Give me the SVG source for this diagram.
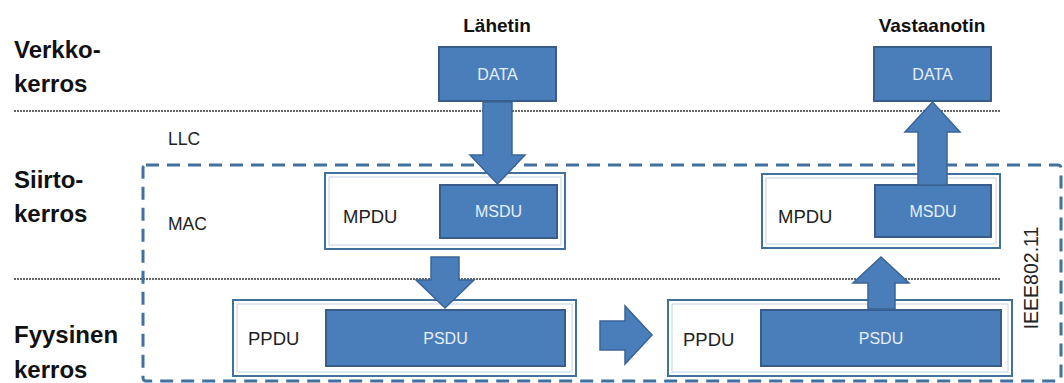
<svg xmlns="http://www.w3.org/2000/svg" width="1064" height="383" viewBox="0 0 1064 383">
<style>
.big{font-family:"Liberation Sans",Arial,sans-serif;font-weight:bold;font-size:24px;fill:#111}
.hdr{font-family:"Liberation Sans",Arial,sans-serif;font-weight:bold;font-size:19px;fill:#111;text-anchor:middle}
.lbl{font-family:"Liberation Sans",Arial,sans-serif;font-size:18.5px;fill:#222}
.wt{font-family:"Liberation Sans",Arial,sans-serif;font-size:16px;fill:#e6eef8;text-anchor:middle}
.blue{fill:#4a7ebb;stroke:#385d8a;stroke-width:2}
.outer{fill:#fff;stroke:#41719c;stroke-width:2}
.inner{fill:none;stroke:#c3d2e6;stroke-width:1}
.dot{stroke:#666;stroke-width:2;stroke-dasharray:2 1;fill:none}
.arrow{fill:#4a7ebb;stroke:#3a6496;stroke-width:1.5;stroke-linejoin:miter}
</style>
<rect width="1064" height="383" fill="#fff"/>
<g id="layers">
<text class="big" x="14" y="58">Verkko-</text>
<text class="big" x="14" y="92">kerros</text>
<text class="big" x="14" y="188">Siirto-</text>
<text class="big" x="14" y="222">kerros</text>
<text class="big" x="14" y="343">Fyysinen</text>
<text class="big" x="14" y="378">kerros</text>
<line class="dot" x1="14" y1="111" x2="1000" y2="111"/>
<line class="dot" x1="14" y1="279" x2="1000" y2="279"/>
</g>
<g id="ieee">
<rect x="143" y="165" width="918" height="216" rx="3" fill="none" stroke="#41719c" stroke-width="3" stroke-dasharray="13 8"/>
<text class="lbl" transform="translate(1038,278) rotate(-90)" text-anchor="middle" style="font-size:19.5px">IEEE802.11</text>
</g>
<g id="sublayers">
<text class="lbl" x="168" y="145" style="font-size:17.5px">LLC</text>
<text class="lbl" x="168" y="230" style="font-size:17.5px">MAC</text>
</g>
<g id="tx-data">
<text class="hdr" x="497" y="32">Lähetin</text>
<rect class="blue" x="439" y="47" width="117" height="54"/>
<text class="wt" x="497.5" y="80">DATA</text>
</g>
<g id="rx-data">
<text class="hdr" x="932" y="32">Vastaanotin</text>
<rect class="blue" x="874" y="47" width="117" height="54"/>
<text class="wt" x="932.5" y="80">DATA</text>
</g>
<g id="tx-mpdu">
<rect class="outer" x="325" y="173" width="240" height="76"/>
<rect class="inner" x="329" y="177" width="232" height="68"/>
<text class="lbl" x="343" y="223">MPDU</text>
<rect class="blue" x="440" y="185" width="117" height="53"/>
<text class="wt" x="498.5" y="217">MSDU</text>
</g>
<g id="rx-mpdu">
<rect class="outer" x="762" y="174" width="238" height="74"/>
<rect class="inner" x="766" y="178" width="230" height="66"/>
<text class="lbl" x="778" y="223">MPDU</text>
<rect class="blue" x="875" y="185" width="116" height="52"/>
<text class="wt" x="933" y="217">MSDU</text>
</g>
<g id="tx-ppdu">
<rect class="outer" x="233" y="300" width="343" height="76"/>
<rect class="inner" x="237" y="304" width="335" height="68"/>
<text class="lbl" x="248" y="345">PPDU</text>
<rect class="blue" x="326" y="310" width="239" height="56"/>
<text class="wt" x="445.5" y="344">PSDU</text>
</g>
<g id="rx-ppdu">
<rect class="outer" x="668" y="300" width="344" height="76"/>
<rect class="inner" x="672" y="304" width="336" height="68"/>
<text class="lbl" x="683" y="346">PPDU</text>
<rect class="blue" x="761" y="310" width="240" height="56"/>
<text class="wt" x="881" y="344">PSDU</text>
</g>
<g id="connectors">
<polygon class="arrow" points="483,102 512,102 512,155 525,155 497.5,184 470,155 483,155"/>
<polygon class="arrow" points="918,185 947,185 947,132 960,132 932.5,102 905,132 918,132"/>
<polygon class="arrow" points="431,257 459,257 459,280 474,280 445,308 416,280 431,280"/>
<polygon class="arrow" points="600,321 625,321 625,306 652,335 625,364 625,350 600,350"/>
<polygon class="arrow" points="868,309 895,309 895,283 909,283 881,257 853,283 868,283"/>
</g>
</svg>
